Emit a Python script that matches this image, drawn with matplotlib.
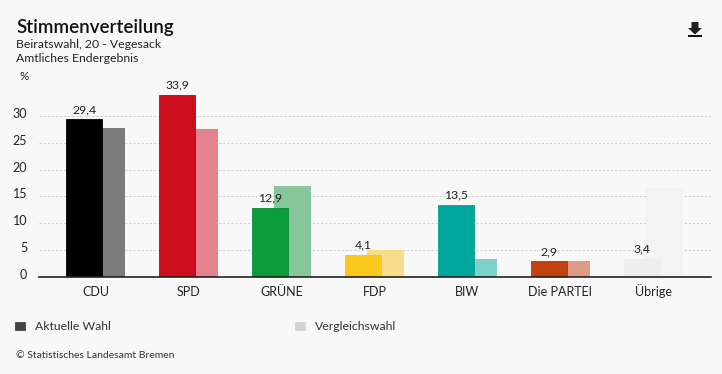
import matplotlib
matplotlib.use('Agg')
import matplotlib.pyplot as plt
from matplotlib.patches import Rectangle, Polygon
from matplotlib.transforms import ScaledTranslation
import numpy as np

parties = ['CDU', 'SPD', 'GRÜNE', 'FDP', 'BIW', 'Die PARTEI', 'Übrige']
current = [29.4, 33.9, 12.9, 4.1, 13.5, 2.9, 3.4]
previous = [27.7, 27.6, 16.9, 5.0, 3.3, 2.9, 16.6]
current_labels = ['29,4', '33,9', '12,9', '4,1', '13,5', '2,9', '3,4']
colors = ['#000000', '#cd0c1e', '#0d9c3c', '#fbc91e', '#00a79d', '#c1410f', '#eeeeee']
prev_colors = ['#7b7b7b', '#e4828e', '#85c79b', '#f6dd8a', '#7fd2cc', '#dd9b84', '#f3f3f3']
edge_colors = ['#000000', '#a80a19', '#0b8a35', '#f5c518', '#0a9c92', '#a83a0e', '#eeeeee']
y_ticks = [0, 5, 10, 15, 20, 25, 30]

W, H = 722, 374
BG = '#f8f8f8'
TXT = '#222222'

plt.rcParams['font.family'] = ['Lato', 'DejaVu Sans']


def px(x, y):
    # pixel position (top left origin) to figure fraction
    return x / W, 1 - y / H


fig = plt.figure(figsize=(W / 100, H / 100), dpi=100, facecolor=BG)

# axes box: x 39..711, baseline at y=277, 5.37 px per percent
left, right, base, top = 39, 711, 277, 70
ax = fig.add_axes([left / W, 1 - base / H, (right - left) / W, (base - top) / H], facecolor=BG)
ax.set_ylim(0, (base - top) / 5.37)
ax.set_xlim((left - 95.4) / 93, (right - 95.4) / 93)

x = np.arange(len(parties))
width = 36.3 / 93
offset = 11.1 / 93

ax.bar(x + offset, previous, width, color=prev_colors, zorder=2)
ax.bar(x - offset, current, width, color=colors, edgecolor=edge_colors, linewidth=0.6, zorder=3)

for i, label in enumerate(current_labels):
    ax.annotate(label, (x[i] - offset, current[i]), xytext=(0, 3), textcoords='offset points',
                ha='center', va='bottom', fontsize=8.8, color=TXT, zorder=4)

ax.set_yticks(y_ticks)
ax.set_xticks(x)
ax.set_xticklabels(parties)
ax.tick_params(axis='both', length=0, labelsize=9, labelcolor=TXT)
ax.tick_params(axis='x', pad=13.5)
ax.tick_params(axis='y', pad=8.5)
# keep Übrige on the same baseline as the capitals
for t in ax.get_xticklabels():
    t.set_va('baseline')
# y labels sit slightly above their grid lines
for t in ax.get_yticklabels():
    t.set_transform(t.get_transform() + ScaledTranslation(0, 3 / 100, fig.dpi_scale_trans))
ax.grid(axis='y', color='#cfcfcf', lw=0.7, ls=(0, (2.2, 2)), zorder=1)
ax.set_axisbelow(True)
for s in ['top', 'right', 'left']:
    ax.spines[s].set_visible(False)
ax.spines['bottom'].set_color('#222222')
ax.spines['bottom'].set_linewidth(1.2)
ax.spines['bottom'].set_zorder(5)

fig.text(*px(16, 27), 'Stimmenverteilung', fontsize=13.5, color='#111111', va='center', weight='semibold')
fig.text(*px(16, 45), 'Beiratswahl, 20 - Vegesack', fontsize=8.8, color=TXT, va='center')
fig.text(*px(16, 59), 'Amtliches Endergebnis', fontsize=8.8, color=TXT, va='center')
fig.text(*px(24, 77), '%', fontsize=8.5, color=TXT, va='center', ha='center')

# legend
fig.add_artist(Rectangle(px(15, 330), 10 / W, 8 / H, transform=fig.transFigure,
                         facecolor='#444444', edgecolor='#333333', lw=0.5))
fig.add_artist(Rectangle(px(295, 330), 10 / W, 8 / H, transform=fig.transFigure,
                         facecolor='#d2d2d2', edgecolor='#d2d2d2', lw=0.5))
fig.text(*px(35, 326), 'Aktuelle Wahl', fontsize=8.8, color='#333333', va='center')
fig.text(*px(315, 326), 'Vergleichswahl', fontsize=8.8, color='#333333', va='center')
fig.text(*px(16, 356), '© Statistisches Landesamt Bremen', fontsize=7.5, color='#333333', va='center')

# download icon
arrow = [(691.5, 22), (698.5, 22), (698.5, 28), (702, 28), (695, 34.5), (688, 28), (691.5, 28)]
fig.add_artist(Polygon([px(a, b) for a, b in arrow], closed=True, transform=fig.transFigure,
                       facecolor='#222222', edgecolor='none'))
fig.add_artist(Rectangle(px(688, 37), 14 / W, 2 / H, transform=fig.transFigure,
                         facecolor='#111111', edgecolor='none'))

fig.savefig('out.png', dpi=100, facecolor=BG)
